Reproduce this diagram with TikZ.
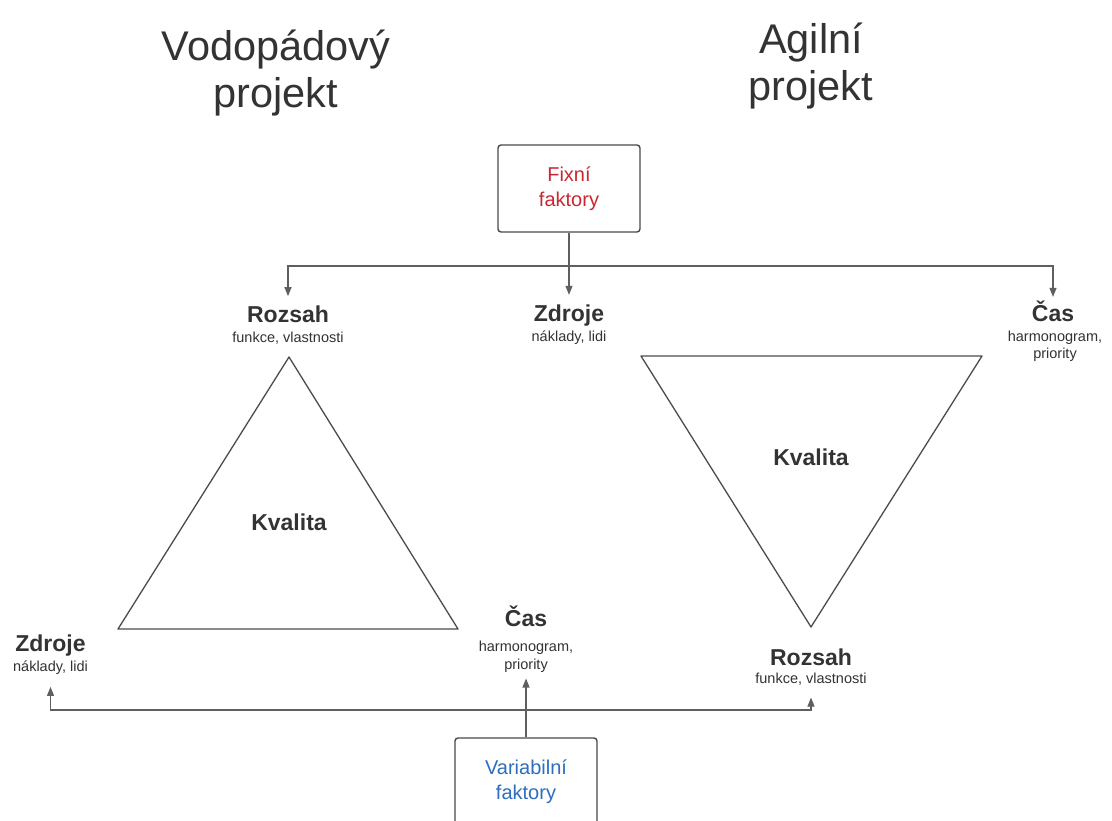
\documentclass[tikz,border=0pt]{standalone}
\usepackage{fontspec}
\setmainfont{Liberation Sans}
\usetikzlibrary{arrows.meta}
\definecolor{txt}{HTML}{333333}
\definecolor{ln}{HTML}{5F5F5F}
\definecolor{boxln}{HTML}{4A4A4A}
\definecolor{fixred}{RGB}{200,40,50}
\definecolor{varblue}{RGB}{45,110,190}
\begin{document}
\begin{tikzpicture}[x=1pt,y=-1pt,
  bigtitle/.style={font=\fontsize{41.5}{44}\selectfont, text=txt, inner sep=0, anchor=base},
  factorbox/.style={draw=boxln, line width=1.4pt, rounded corners=3pt, minimum width=142pt, minimum height=87pt, align=center, font=\fontsize{20}{25}\selectfont, inner sep=0},
  head/.style={font=\bfseries\fontsize{23}{26}\selectfont, text=txt, inner sep=0, anchor=base},
  sub/.style={font=\fontsize{14.5}{17.5}\selectfont, text=txt, inner sep=0, anchor=base},
  conn/.style={draw=ln, line width=1.1pt},
  arr/.style={conn, -{Triangle[length=9pt,width=7pt]}},
  tri/.style={draw=ln!80!black, line width=1.3pt, line join=round}
]
\useasboundingbox[fill=white] (0,0) rectangle (1112,821);

% titles
\node[bigtitle] (tw1) at (276,61) {Vodopádový};
\node[bigtitle] (tw2) at (276,108) {projekt};
\node[bigtitle] (ta1) at (811,54) {Agilní};
\node[bigtitle] (ta2) at (811,101) {projekt};

% factor boxes
\node[factorbox, text=fixred] (fix) at (569,188.5) {Fixní\\faktory};
\node[factorbox, text=varblue] (var) at (526,781.5) {Variabilní\\faktory};

% top labels
\node[head] (rozT) at (288,323) {Rozsah};
\node[sub] (rozTs) at (288,342) {funkce, vlastnosti};
\node[head] (zdT) at (569,321.7) {Zdroje};
\node[sub] (zdTs) at (569,341.7) {náklady, lidi};
\node[head] (casT) at (1053,321.7) {Čas};
\node[sub] (casTs1) at (1055,341.7) {harmonogram,};
\node[sub] (casTs2) at (1055,359) {priority};

% triangles
\draw[tri] (289,357) -- (458,629) -- (118,629) -- cycle;
\node[head] (kvL) at (289,530) {Kvalita};
\draw[tri] (641,356) -- (982,356) -- (811,627) -- cycle;
\node[head] (kvR) at (811,465) {Kvalita};

% bottom labels
\node[head] (zdB) at (50.5,651.7) {Zdroje};
\node[sub] (zdBs) at (50.5,671.7) {náklady, lidi};
\node[head] (casB) at (526,626.7) {Čas};
\node[sub] (casBs1) at (526,651.7) {harmonogram,};
\node[sub] (casBs2) at (526,669.3) {priority};
\node[head] (rozB) at (811,665) {Rozsah};
\node[sub] (rozBs) at (811,683) {funkce, vlastnosti};

% connectors top
\coordinate (jt) at (569,266);
\draw[arr, shorten >=10pt] (fix.south) -- (zdT.north);
\draw[arr, shorten >=10pt] (jt) -| (rozT.north);
\draw[arr, shorten >=4pt] (jt) -| (casT.north);

% connectors bottom
\coordinate (jb) at (526,710);
\draw[arr, shorten >=6pt] (var.north) -- (casBs2.south);
\draw[arr, shorten >=12pt] (jb) -| (zdBs.south);
\draw[arr, shorten >=12.5pt] (jb) -| (rozBs.south);
\end{tikzpicture}
\end{document}
